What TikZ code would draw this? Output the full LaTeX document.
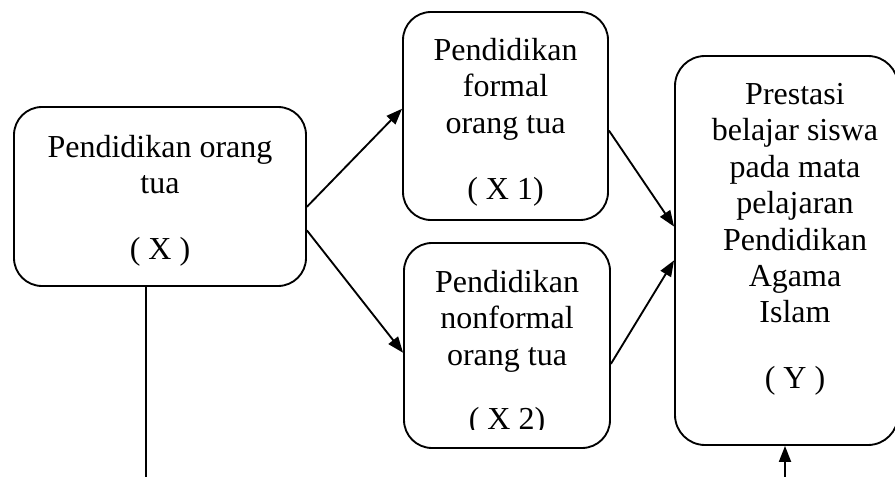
\documentclass[tikz,border=0pt]{standalone}
\usepackage{fontspec}
\setmainfont{Liberation Serif}
\usetikzlibrary{arrows.meta,positioning,calc,fit}
\tikzset{
  kotak/.style={draw,line width=1.4pt,rounded corners=21pt,inner sep=0pt},
  teks/.style={anchor=north,align=center,inner sep=0pt,font=\fontsize{24}{27.3}\selectfont},
  panah/.style={-{Triangle[length=12pt,width=9pt]},line width=1.4pt},
  garis/.style={line width=1.4pt},
}

\begin{document}
\begin{tikzpicture}[x=0.75pt,y=-0.75pt]
\useasboundingbox (0,0) rectangle (895,477);
% kotak variabel
\node[kotak,fit={(14,107) (306,286)}] (px) {};
\node[kotak,fit={(403,12) (608,220)}] (pf) {};
\node[kotak,fit={(404,243) (610,448)}] (pn) {};
\node[kotak,rounded corners=22.5pt,fit={(675,56) (898,445)}] (py) {};
% isi teks
\node[teks] (tx) at (160,135) {Pendidikan orang\\tua\\[22pt]( X )};
\node[teks] (tf) at (505.5,38) {Pendidikan\\formal\\orang tua\\[22pt]( X 1)};
\begin{scope}
  \clip (404,243) rectangle (610,429);
  \node[teks] (tn) at (507,270) {Pendidikan\\nonformal\\orang tua\\[21pt]( X 2)};
\end{scope}
\node[teks] (ty) at (795,83) {Prestasi\\belajar siswa\\pada mata\\pelajaran\\Pendidikan\\Agama\\Islam\\[22pt]( Y )};
% panah
\draw[panah] (px.-4.5) -- (pf.176.6);
\draw[panah] (px.-13.7) -- (pn.-176.4);
\draw[panah] (pf.-8.9) -- (py.168.6);
\draw[panah] (pn.-10.7) -- (py.-175.6);
\coordinate (kiri) at (146,477);
\draw[garis] (px.south -| kiri) -- (kiri);
\coordinate (kanan) at (785,477);
\draw[panah] (kanan) -- (py.south -| kanan);
\end{tikzpicture}
\end{document}
